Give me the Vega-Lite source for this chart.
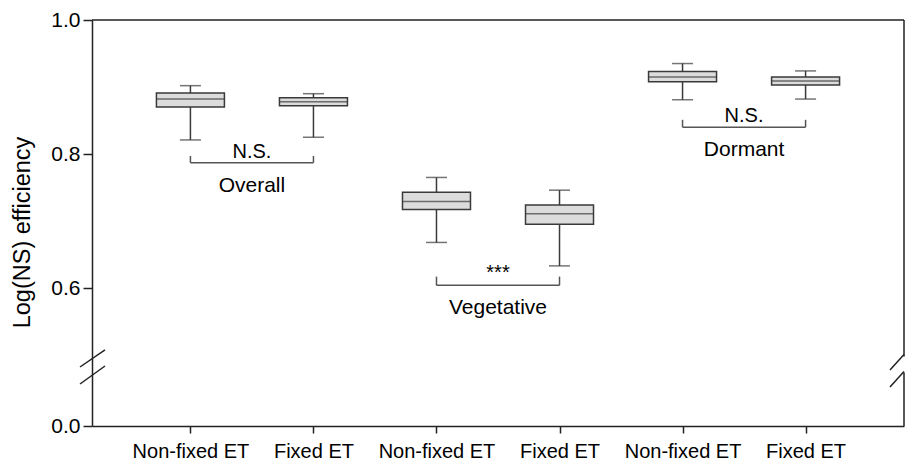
{
  "$schema": "https://vega.github.io/schema/vega-lite/v6.json",
  "width": 812,
  "height": 406,
  "autosize": {"type": "none"},
  "padding": {"left": 92, "top": 20, "right": 1, "bottom": 37},
  "config": {
    "view": {"stroke": null},
    "font": "Liberation Sans",
    "axis": {"grid": false, "domainColor": "#222", "domainWidth": 1.5, "tickColor": "#222", "tickWidth": 1.5, "labelColor": "#000", "labelFont": "Liberation Sans", "titleFont": "Liberation Sans"}
  },
  "datasets": {
    "boxes": [
      {"pos": 1, "condition": "Non-fixed ET", "stage": "Overall", "min": 0.821, "q1": 0.870, "median": 0.882, "q3": 0.891, "max": 0.902},
      {"pos": 2, "condition": "Fixed ET", "stage": "Overall", "min": 0.825, "q1": 0.872, "median": 0.878, "q3": 0.884, "max": 0.890},
      {"pos": 3, "condition": "Non-fixed ET", "stage": "Vegetative", "min": 0.668, "q1": 0.717, "median": 0.729, "q3": 0.743, "max": 0.765},
      {"pos": 4, "condition": "Fixed ET", "stage": "Vegetative", "min": 0.633, "q1": 0.695, "median": 0.711, "q3": 0.724, "max": 0.746},
      {"pos": 5, "condition": "Non-fixed ET", "stage": "Dormant", "min": 0.881, "q1": 0.908, "median": 0.915, "q3": 0.923, "max": 0.935},
      {"pos": 6, "condition": "Fixed ET", "stage": "Dormant", "min": 0.882, "q1": 0.903, "median": 0.909, "q3": 0.915, "max": 0.924}
    ],
    "brackets": [
      {"stage": "Overall", "from": 1, "to": 2, "mid": 1.5, "y": 0.787, "top": 0.797, "sig": "N.S."},
      {"stage": "Vegetative", "from": 3, "to": 4, "mid": 3.5, "y": 0.604, "top": 0.617, "sig": "***"},
      {"stage": "Dormant", "from": 5, "to": 6, "mid": 5.5, "y": 0.840, "top": 0.851, "sig": "N.S."}
    ],
    "frame": [
      {"part": "top", "x": 0.2, "x2": 6.8, "y": 1.0, "y2": 1.0},
      {"part": "right-lower", "x": 6.8, "x2": 6.8, "y": 0.0, "y2": 0.3768},
      {"part": "right-upper", "x": 6.8, "x2": 6.8, "y": 0.4894, "y2": 1.0},
      {"part": "left-break-1", "x": 0.1025, "x2": 0.3057, "y": 0.4155, "y2": 0.5075},
      {"part": "left-break-2", "x": 0.1025, "x2": 0.3057, "y": 0.2958, "y2": 0.4225},
      {"part": "right-break-1", "x": 6.686, "x2": 6.8, "y": 0.3944, "y2": 0.5007},
      {"part": "right-break-2", "x": 6.686, "x2": 6.8, "y": 0.2746, "y2": 0.3838}
    ]
  },
  "layer": [
    {
      "data": {"name": "boxes"},
      "mark": {"type": "rule", "color": "#3a3a3a", "strokeWidth": 1.5},
      "encoding": {
        "x": {"field": "pos", "type": "quantitative", "scale": {"domain": [0.2, 6.8], "nice": false, "zero": false, "padding": 0},
          "axis": {"values": [1, 2, 3, 4, 5, 6], "labelExpr": "datum.value % 2 == 1 ? 'Non-fixed ET' : 'Fixed ET'", "labelFontSize": 20, "tickSize": 7, "labelPadding": 8, "title": null, "labelFlush": false, "labelOverlap": false}},
        "y": {"field": "min", "type": "quantitative", "scale": {"domain": [0, 0.5, 1], "range": [406, 335, 0], "nice": false, "zero": false, "padding": 0},
          "axis": {"values": [0, 0.6, 0.8, 1.0], "format": ".1f", "labelFontSize": 21, "tickSize": 9, "labelPadding": 3, "title": "Log(NS) efficiency", "titleFontSize": 23.5, "titleFontWeight": "normal", "titleColor": "#000", "titleAngle": -90, "titleX": -70, "titleY": 212, "titleAlign": "center", "titleBaseline": "middle"}},
        "y2": {"field": "max"}
      }
    },
    {
      "data": {"name": "boxes"},
      "mark": {"type": "tick", "orient": "horizontal", "size": 21, "thickness": 1.5, "color": "#3a3a3a"},
      "encoding": {
        "x": {"field": "pos", "type": "quantitative", "scale": {"domain": [0.2, 6.8], "nice": false, "zero": false, "padding": 0}},
        "y": {"field": "max", "type": "quantitative", "scale": {"domain": [0, 0.5, 1], "range": [406, 335, 0], "nice": false, "zero": false, "padding": 0}}
      }
    },
    {
      "data": {"name": "boxes"},
      "mark": {"type": "tick", "orient": "horizontal", "size": 21, "thickness": 1.5, "color": "#3a3a3a"},
      "encoding": {
        "x": {"field": "pos", "type": "quantitative", "scale": {"domain": [0.2, 6.8], "nice": false, "zero": false, "padding": 0}},
        "y": {"field": "min", "type": "quantitative", "scale": {"domain": [0, 0.5, 1], "range": [406, 335, 0], "nice": false, "zero": false, "padding": 0}}
      }
    },
    {
      "data": {"name": "boxes"},
      "mark": {"type": "bar", "size": 68, "fill": "#dcdcdc", "stroke": "#3a3a3a", "strokeWidth": 1.5},
      "encoding": {
        "x": {"field": "pos", "type": "quantitative", "scale": {"domain": [0.2, 6.8], "nice": false, "zero": false, "padding": 0}},
        "y": {"field": "q1", "type": "quantitative", "scale": {"domain": [0, 0.5, 1], "range": [406, 335, 0], "nice": false, "zero": false, "padding": 0}},
        "y2": {"field": "q3"}
      }
    },
    {
      "data": {"name": "boxes"},
      "mark": {"type": "tick", "orient": "horizontal", "size": 68, "thickness": 1.5, "color": "#3a3a3a"},
      "encoding": {
        "x": {"field": "pos", "type": "quantitative", "scale": {"domain": [0.2, 6.8], "nice": false, "zero": false, "padding": 0}},
        "y": {"field": "median", "type": "quantitative", "scale": {"domain": [0, 0.5, 1], "range": [406, 335, 0], "nice": false, "zero": false, "padding": 0}}
      }
    },
    {
      "data": {"name": "brackets"},
      "mark": {"type": "rule", "color": "#555", "strokeWidth": 1.5},
      "encoding": {
        "x": {"field": "from", "type": "quantitative", "scale": {"domain": [0.2, 6.8], "nice": false, "zero": false, "padding": 0}},
        "x2": {"field": "to"},
        "y": {"field": "y", "type": "quantitative", "scale": {"domain": [0, 0.5, 1], "range": [406, 335, 0], "nice": false, "zero": false, "padding": 0}}
      }
    },
    {
      "data": {"name": "brackets"},
      "mark": {"type": "rule", "color": "#555", "strokeWidth": 1.5},
      "encoding": {
        "x": {"field": "from", "type": "quantitative", "scale": {"domain": [0.2, 6.8], "nice": false, "zero": false, "padding": 0}},
        "y": {"field": "y", "type": "quantitative", "scale": {"domain": [0, 0.5, 1], "range": [406, 335, 0], "nice": false, "zero": false, "padding": 0}},
        "y2": {"field": "top"}
      }
    },
    {
      "data": {"name": "brackets"},
      "mark": {"type": "rule", "color": "#555", "strokeWidth": 1.5},
      "encoding": {
        "x": {"field": "to", "type": "quantitative", "scale": {"domain": [0.2, 6.8], "nice": false, "zero": false, "padding": 0}},
        "y": {"field": "y", "type": "quantitative", "scale": {"domain": [0, 0.5, 1], "range": [406, 335, 0], "nice": false, "zero": false, "padding": 0}},
        "y2": {"field": "top"}
      }
    },
    {
      "data": {"name": "brackets"},
      "mark": {"type": "text", "fontSize": 20, "color": "#000", "baseline": "alphabetic", "align": "center", "dy": 2},
      "encoding": {
        "x": {"field": "mid", "type": "quantitative", "scale": {"domain": [0.2, 6.8], "nice": false, "zero": false, "padding": 0}},
        "y": {"field": "top", "type": "quantitative", "scale": {"domain": [0, 0.5, 1], "range": [406, 335, 0], "nice": false, "zero": false, "padding": 0}},
        "text": {"field": "sig"}
      }
    },
    {
      "data": {"name": "brackets"},
      "mark": {"type": "text", "fontSize": 21, "color": "#000", "baseline": "alphabetic", "align": "center", "dy": 29},
      "encoding": {
        "x": {"field": "mid", "type": "quantitative", "scale": {"domain": [0.2, 6.8], "nice": false, "zero": false, "padding": 0}},
        "y": {"field": "y", "type": "quantitative", "scale": {"domain": [0, 0.5, 1], "range": [406, 335, 0], "nice": false, "zero": false, "padding": 0}},
        "text": {"field": "stage"}
      }
    },
    {
      "data": {"name": "frame"},
      "mark": {"type": "rule", "color": "#222", "strokeWidth": 1.5},
      "encoding": {
        "x": {"field": "x", "type": "quantitative", "scale": {"domain": [0.2, 6.8], "nice": false, "zero": false, "padding": 0}},
        "x2": {"field": "x2"},
        "y": {"field": "y", "type": "quantitative", "scale": {"domain": [0, 0.5, 1], "range": [406, 335, 0], "nice": false, "zero": false, "padding": 0}},
        "y2": {"field": "y2"}
      }
    }
  ]
}
